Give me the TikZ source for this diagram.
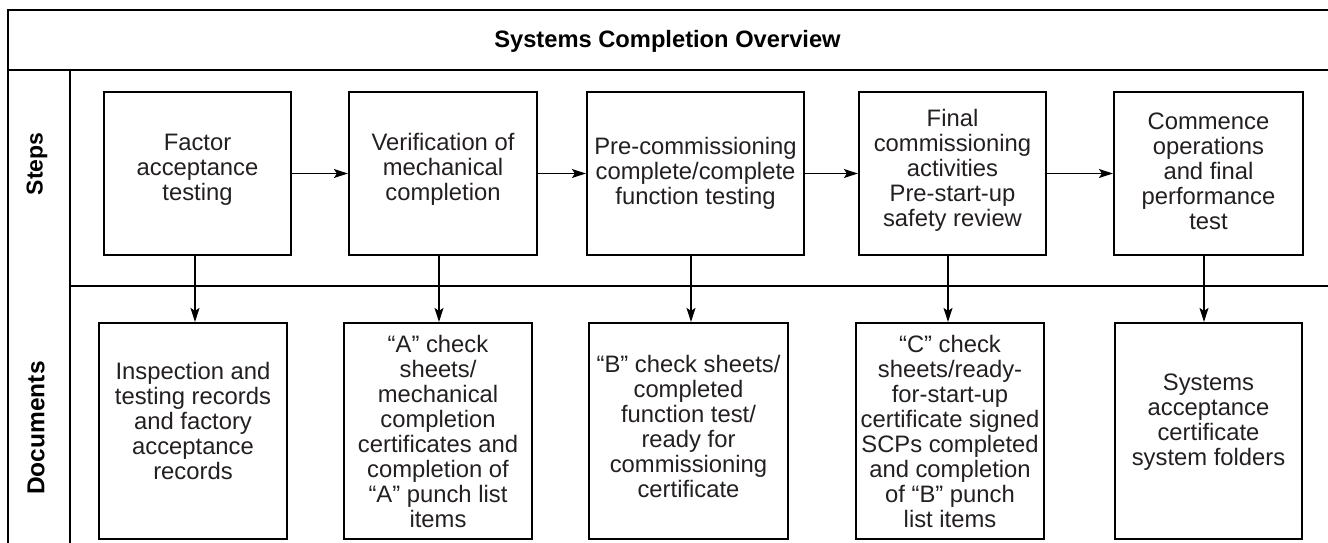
\documentclass[tikz,border=0pt]{standalone}
\usepackage{fontspec}
\setmainfont{Liberation Sans}
\usetikzlibrary{arrows.meta}
\definecolor{ink}{HTML}{231F20}
\begin{document}
\begin{tikzpicture}[x=1pt,y=-1pt,
  frame/.style={draw=black, line width=2.1pt},
  divider/.style={draw=black, line width=1.3pt},
  stepbox/.style={draw=black, line width=2.2pt, minimum height=163pt, inner sep=0pt},
  docbox/.style={draw=black, line width=2.2pt, minimum height=216pt, inner sep=0pt},
  txt/.style={align=center, text=ink, font=\fontsize{23.8}{25}\selectfont, inner sep=0pt},
  lane/.style={rotate=90, text=black, inner sep=0pt},
  title/.style={font=\fontsize{23.7}{25}\selectfont\bfseries, text=black, inner sep=0pt},
  arr/.style={draw=black, line width=1.2pt, -{Stealth[length=14pt,width=9pt,inset=3pt]}}
]
\useasboundingbox (0,0) rectangle (1328,543);
\clip (0,0) rectangle (1328,543);

% frame
\draw[frame] (8,548) -- (8,10) -- (1335,10);
\draw[frame] (8,70) -- (1335,70);
\draw[divider] (70,70) -- (70,548);
\draw[divider] (70,286) -- (1335,286);

\node[title] (ttl) at (667.5,41) {Systems Completion Overview};
\node[lane, font=\fontsize{23}{25}\selectfont\bfseries] (lsteps) at (37,164) {Steps};
\node[lane, font=\fontsize{24.5}{25}\selectfont\bfseries] (ldocs) at (36,428) {Documents};

% step boxes
\node[stepbox, minimum width=187pt] (s1) at (197.5,173.5) {};
\node[stepbox, minimum width=188pt] (s2) at (443,173.5) {};
\node[stepbox, minimum width=217pt] (s3) at (695.5,173.5) {};
\node[stepbox, minimum width=187pt] (s4) at (952.5,173.5) {};
\node[stepbox, minimum width=189pt] (s5) at (1208.5,173.5) {};

\node[txt] (s1t) at ([yshift=4pt]s1.center) {Factor\\acceptance\\testing};
\node[txt] (s2t) at ([yshift=4pt]s2.center) {Verification of\\mechanical\\completion};
\node[txt] (s3t) at ([yshift=0pt]s3.center) {Pre-commissioning\\complete/complete\\function testing};
\node[txt] (s4t) at ([yshift=3pt]s4.center) {Final\\commissioning\\activities\\Pre-start-up\\safety review};
\node[txt] (s5t) at ([yshift=2pt]s5.center) {Commence\\operations\\and final\\performance\\test};

% document boxes
\node[docbox, minimum width=188pt] (d1) at (193,431) {};
\node[docbox, minimum width=188pt] (d2) at (438,431) {};
\node[docbox, minimum width=199pt] (d3) at (688.5,431) {};
\node[docbox, minimum width=188pt] (d4) at (950,431) {};
\node[docbox, minimum width=187pt] (d5) at (1208.5,431) {};

\node[txt] (d1t) at ([yshift=10pt]d1.center) {Inspection and\\testing records\\and factory\\acceptance\\records};
\node[txt] (d2t) at ([yshift=0pt]d2.center) {“A” check\\sheets/\\mechanical\\completion\\certificates and\\completion of\\“A” punch list\\items};
\node[txt] (d3t) at ([yshift=5pt]d3.center) {“B” check sheets/\\completed\\function test/\\ready for\\commissioning\\certificate};
\node[txt] (d4t) at ([yshift=0pt]d4.center) {“C” check\\sheets/ready-\\for-start-up\\certificate signed\\SCPs completed\\and completion\\of “B” punch\\list items};
\node[txt] (d5t) at ([yshift=9pt]d5.center) {Systems\\acceptance\\certificate\\system folders};

% horizontal arrows
\draw[arr] (s1.east) -- (s2.west);
\draw[arr] (s2.east) -- (s3.west);
\draw[arr] (s3.east) -- (s4.west);
\draw[arr] (s4.east) -- (s5.west);

% vertical arrows
\coordinate (a1) at (195,0);
\coordinate (a2) at (439,0);
\coordinate (a3) at (691,0);
\coordinate (a4) at (948,0);
\coordinate (a5) at (1204,0);
\draw[arr] (s1.south -| a1) -- (d1.north -| a1);
\draw[arr] (s2.south -| a2) -- (d2.north -| a2);
\draw[arr] (s3.south -| a3) -- (d3.north -| a3);
\draw[arr] (s4.south -| a4) -- (d4.north -| a4);
\draw[arr] (s5.south -| a5) -- (d5.north -| a5);
\end{tikzpicture}
\end{document}
